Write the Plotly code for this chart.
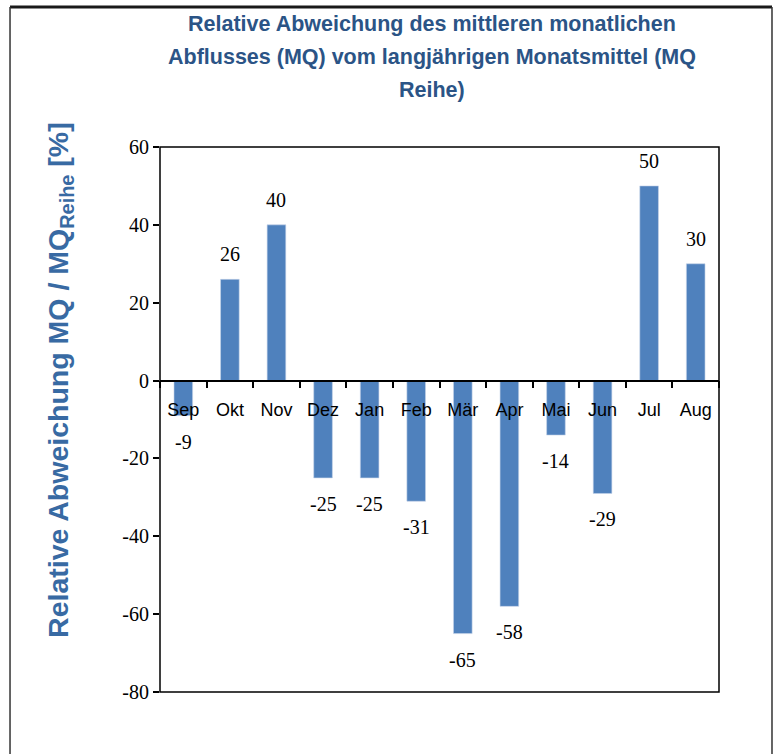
import plotly.graph_objects as go

months = ["Sep", "Okt", "Nov", "Dez", "Jan", "Feb", "Mär", "Apr", "Mai", "Jun", "Jul", "Aug"]
values = [-9, 26, 40, -25, -25, -31, -65, -58, -14, -29, 50, 30]
y_ticks = [60, 40, 20, 0, -20, -40, -60, -80]
y_tick_labels = ["60", "40", "20", "0", "-20", "-40", "-60", "-80"]
title_lines = ["Relative Abweichung des mittleren monatlichen",
               "Abflusses (MQ) vom langjährigen Monatsmittel (MQ",
               "Reihe)"]

BAR = "#4F81BD"
TITLE_C = "#2B5486"
YT_C = "#386AA3"

fig = go.Figure()
fig.add_trace(go.Bar(x=months, y=values, marker=dict(color=BAR, line=dict(color="#C6D4EA", width=0.6)),
                     width=0.4, hoverinfo="x+y"))

annotations = []
for m, v in zip(months, values):
    if v >= 0:
        annotations.append(dict(x=m, y=v, xref="x", yref="y", text=str(v), showarrow=False,
                                yanchor="bottom", yshift=12,
                                font=dict(family="Liberation Serif, Times New Roman, serif", size=20, color="black")))
    else:
        annotations.append(dict(x=m, y=v, xref="x", yref="y", text=str(v), showarrow=False,
                                yanchor="top", yshift=-13,
                                font=dict(family="Liberation Serif, Times New Roman, serif", size=20, color="black")))

# title lines (pixel centres 24, 57, 90 -> paper coords with plot top 147, height 545)
for i, line in enumerate(title_lines):
    py = 24 + 33 * i
    annotations.append(dict(
        x=0.4866, y=(692 - py) / 545, xref="paper", yref="paper", xanchor="center", yanchor="middle",
        text="<b>" + line + "</b>", showarrow=False,
        font=dict(family="Liberation Sans, Arial, sans-serif", size=21.5, color=TITLE_C)))

annotations.append(dict(
    x=-0.179, y=0.5725, xref="paper", yref="paper", xanchor="center", yanchor="middle",
    text="<b>Relative Abweichung MQ / MQ<sub>Reihe</sub> [%]</b>", textangle=-90, showarrow=False,
    font=dict(family="Liberation Sans, Arial, sans-serif", size=28.5, color=YT_C)))

zero_pos = (0 - y_ticks[-1]) / (y_ticks[0] - y_ticks[-1])

shapes = [
    dict(type="rect", xref="paper", yref="paper", x0=0, x1=1, y0=0, y1=1,
         line=dict(color="black", width=1.5), layer="above"),
    # outer chart border
    dict(type="line", xref="paper", yref="paper", x0=-0.2683, x1=1.0948, y0=1.2569, y1=1.2569,
         line=dict(color="#1a1a1a", width=3)),
    dict(type="line", xref="paper", yref="paper", x0=-0.2683, x1=-0.2683, y0=1.2569, y1=-0.15,
         line=dict(color="#333333", width=1.5)),
    dict(type="line", xref="paper", yref="paper", x0=1.0948, x1=1.0948, y0=1.2569, y1=-0.15,
         line=dict(color="#333333", width=1.5)),
]

fig.update_layout(
    width=779, height=754,
    margin=dict(l=160, r=60, t=147, b=62),
    paper_bgcolor="white", plot_bgcolor="white",
    showlegend=False,
    bargap=0.6,
    annotations=annotations,
    shapes=shapes,
    xaxis=dict(
        anchor="free", position=zero_pos,
        showline=True, linecolor="black", linewidth=1.5,
        ticks="outside", ticklen=7, tickcolor="black", tickwidth=1.5,
        tickson="boundaries", showgrid=False, zeroline=False,
        ticklabelstandoff=13,
        tickfont=dict(family="Liberation Sans, Arial, sans-serif", size=18, color="black"),
    ),
    yaxis=dict(
        range=[y_ticks[-1], y_ticks[0]], tickvals=y_ticks, ticktext=y_tick_labels,
        ticks="outside", ticklen=6, tickcolor="black", tickwidth=1.5,
        showgrid=False, zeroline=False, showline=False,
        tickfont=dict(family="Liberation Serif, Times New Roman, serif", size=20, color="black"),
    ),
)

fig.write_html("out.html")
